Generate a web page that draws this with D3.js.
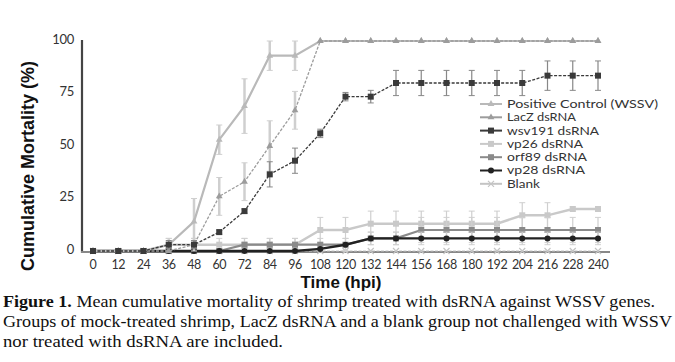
<!DOCTYPE html>
<html>
<head>
<meta charset="utf-8">
<script src="https://cdn.jsdelivr.net/npm/d3@7"></script>
<style>
  body { margin: 0; background: #fff; }
  svg { display: block; }
</style>
</head>
<body>
<div id="chart"></div>
<script>
// Data (hours post infection, % mortality)
var hours = [0, 12, 24, 36, 48, 60, 72, 84, 96, 108, 120, 132, 144, 156, 168, 180, 192, 204, 216, 228, 240];
var yTicks = [0, 25, 50, 75, 100];

var positiveCtrl = [0, 0, 0, 3, 14, 53, 69, 93, 93, 100, 100, 100, 100, 100, 100, 100, 100, 100, 100, 100, 100];
var positiveErr  = [0, 0, 0, 3, 11, 7, 13, 7, 7, 0, 0, 0, 0, 0, 0, 0, 0, 0, 0, 0, 0];
var lacz    = [0, 0, 0, 0, 3, 26, 33, 50, 67, 100, 100, 100, 100, 100, 100, 100, 100, 100, 100, 100, 100];
var laczErr = [0, 0, 0, 0, 3, 9, 9, 12, 9, 0, 0, 0, 0, 0, 0, 0, 0, 0, 0, 0, 0];
var wsv191    = [0, 0, 0, 3, 3, 9, 19, 36.5, 43, 56, 73.5, 73.5, 80, 80, 80, 80, 80, 80, 83.5, 83.5, 83.5];
var wsv191Err = [0, 0, 0, 2, 2, 1, 1, 6, 6, 2, 2, 3, 6, 6, 6, 6, 6, 6, 7, 7, 7];
var vp26    = [0, 0, 0, 3, 3, 3, 3, 3, 3, 10, 10, 13, 13, 13, 13, 13, 13, 17, 17, 20, 20];
var vp26Err = [0, 0, 0, 3, 3, 3, 3, 3, 3, 6, 6, 6, 6, 6, 6, 6, 6, 6, 6, 1, 1];
var orf89    = [0, 0, 0, 0, 0, 0, 3, 3, 3, 3, 3, 6, 6, 10, 10, 10, 10, 10, 10, 10, 10];
var orf89Err = [0, 0, 0, 0, 0, 0, 3, 3, 3, 3, 3, 3, 3, 6, 6, 6, 6, 6, 6, 6, 6];
var vp28    = [0, 0, 0, 0, 0, 0, 0, 0, 0, 1, 3, 6, 6, 6, 6, 6, 6, 6, 6, 6, 6];
var vp28Err = [0, 0, 0, 0, 0, 0, 0, 0, 0, 1, 3, 3, 3, 3, 3, 3, 3, 3, 3, 3, 3];
var blank    = [0, 0, 0, 0, 0, 0, 0, 0, 0, 0, 0, 0, 0, 0, 0, 0, 0, 0, 0, 0, 0];
var blankErr = [0, 0, 0, 0, 0, 0, 0, 0, 0, 0, 0, 0, 0, 0, 0, 0, 0, 0, 0, 0, 0];

var seriesNames = ["Positive Control (WSSV)", "LacZ dsRNA", "wsv191 dsRNA", "vp26 dsRNA", "orf89 dsRNA", "vp28 dsRNA", "Blank"];
var seriesValues = [positiveCtrl, lacz, wsv191, vp26, orf89, vp28, blank];
var seriesErrors = [positiveErr, laczErr, wsv191Err, vp26Err, orf89Err, vp28Err, blankErr];

var captionLines = [
  ["Figure 1.", " Mean cumulative mortality of shrimp treated with dsRNA against WSSV genes."],
  ["", "Groups of mock-treated shrimp, LacZ dsRNA and a blank group not challenged with WSSV"],
  ["", "nor treated with dsRNA are included."]
];

// Styles per series (legend text widths follow the printed figure)
var styles = [
  {color: "#b9b9b9", width: 2.2, marker: "triangle", labelWidth: 151},
  {color: "#9c9c9c", width: 1.3, marker: "triangle", labelWidth: 69},
  {color: "#3a3a3a", width: 1.3, marker: "square", labelWidth: 92},
  {color: "#c9c9c9", width: 2.4, marker: "square", labelWidth: 76},
  {color: "#8a8a8a", width: 2.2, marker: "square", labelWidth: 80},
  {color: "#222222", width: 2.4, marker: "circle", labelWidth: 78},
  {color: "#c4c4c4", width: 1.2, marker: "cross", labelWidth: 33}
];

var W = 675, H = 362;
var svg = d3.select("#chart").append("svg")
    .attr("width", W)
    .attr("height", H);

// Scales
var x = d3.scaleLinear().domain([0, 240]).range([93, 598]);
var y = d3.scaleLinear().domain([0, 100]).range([251, 41]);

// Axes lines
svg.append("line")
    .attr("x1", 82).attr("x2", 82)
    .attr("y1", y(100) - 1).attr("y2", 253)
    .attr("stroke", "#444").attr("stroke-width", 2.2);
svg.append("line")
    .attr("x1", 81).attr("x2", 610)
    .attr("y1", 252).attr("y2", 252)
    .attr("stroke", "#888").attr("stroke-width", 2);

var tickFont = "Lato, 'Open Sans', sans-serif";

svg.selectAll("text.ytick")
    .data(yTicks)
    .enter().append("text")
    .attr("class", "ytick")
    .attr("x", 74)
    .attr("y", function (d) { return y(d) - 2; })
    .attr("dy", "0.35em")
    .attr("text-anchor", "end")
    .attr("font-family", tickFont)
    .attr("font-size", 13)
    .attr("letter-spacing", -0.3)
    .attr("fill", "#333")
    .text(function (d) { return d; });

svg.selectAll("text.xtick")
    .data(hours)
    .enter().append("text")
    .attr("class", "xtick")
    .attr("x", function (d) { return x(d); })
    .attr("y", 269)
    .attr("text-anchor", "middle")
    .attr("font-family", tickFont)
    .attr("font-size", 12.5)
    .attr("letter-spacing", -0.4)
    .attr("fill", "#333")
    .text(function (d) { return d; });

// Axis titles
svg.append("text")
    .attr("transform", "translate(34,166) rotate(-90)")
    .attr("text-anchor", "middle")
    .attr("font-family", "'Liberation Sans', Arial, sans-serif")
    .attr("font-weight", "bold")
    .attr("font-size", 18)
    .attr("fill", "#111")
    .text("Cumulative Mortality (%)");

svg.append("text")
    .attr("x", 341)
    .attr("y", 287.5)
    .attr("text-anchor", "middle")
    .attr("font-family", "'Liberation Sans', Arial, sans-serif")
    .attr("font-weight", "bold")
    .attr("font-size", 17)
    .attr("fill", "#111")
    .text("Time (hpi)");

// Marker drawing
function drawMarker(g, type, cx, cy, color) {
    if (type === "square") {
        g.append("rect").attr("x", cx - 3).attr("y", cy - 3).attr("width", 6).attr("height", 6)
            .attr("fill", color);
    } else if (type === "circle") {
        g.append("circle").attr("cx", cx).attr("cy", cy).attr("r", 3).attr("fill", color);
    } else if (type === "triangle") {
        g.append("path").attr("d", d3.symbol().type(d3.symbolTriangle).size(20)())
            .attr("transform", "translate(" + cx + "," + cy + ")").attr("fill", color);
    } else {
        g.append("path").attr("d", "M-3,-3L3,3M-3,3L3,-3")
            .attr("transform", "translate(" + cx + "," + cy + ")")
            .attr("stroke", color).attr("stroke-width", 1.2);
    }
}

var line = d3.line()
    .x(function (d) { return x(d.h); })
    .y(function (d) { return y(d.v); });

// Draw series, from the bottom of the legend upward so darker ones sit on top
var order = [6, 3, 4, 5, 0, 1, 2];
order.forEach(function (si) {
    var st = styles[si];
    var pts = hours.map(function (h, i) {
        return {h: h, v: seriesValues[si][i], e: seriesErrors[si][i]};
    });
    var g = svg.append("g").attr("class", "series");

    // error bars
    pts.forEach(function (p) {
        if (p.e <= 0) return;
        var y1 = y(Math.min(p.v + p.e, 101)), y2 = y(Math.max(p.v - p.e, 0));
        var ec = si === 2 ? "#888" : "#cfcfcf";
        g.append("line").attr("x1", x(p.h)).attr("x2", x(p.h)).attr("y1", y1).attr("y2", y2)
            .attr("stroke", ec).attr("stroke-width", si < 2 ? 2.5 : 1.2);
        [y1, y2].forEach(function (yy) {
            g.append("line").attr("x1", x(p.h) - 3).attr("x2", x(p.h) + 3).attr("y1", yy).attr("y2", yy)
                .attr("stroke", ec).attr("stroke-width", 1);
        });
    });

    g.append("path")
        .datum(pts)
        .attr("d", line)
        .attr("fill", "none")
        .attr("stroke", st.color)
        .attr("stroke-width", st.width)
        .attr("stroke-dasharray", st.width < 2 ? "3,1.5" : null);

    pts.forEach(function (p) {
        drawMarker(g, st.marker, x(p.h), y(p.v), st.color);
    });
});

// Legend
var legend = svg.append("g").attr("transform", "translate(480,104)");
seriesNames.forEach(function (name, i) {
    var row = legend.append("g").attr("transform", "translate(0," + (i * 13.3) + ")");
    row.append("line").attr("x1", 0).attr("x2", 22).attr("y1", 0).attr("y2", 0)
        .attr("stroke", styles[i].color).attr("stroke-width", 2);
    drawMarker(row, styles[i].marker, 11, 0, styles[i].color);
    row.append("text")
        .attr("x", 27)
        .attr("y", 0)
        .attr("dy", "0.36em")
        .attr("font-family", tickFont)
        .attr("font-size", 11)
        .attr("textLength", styles[i].labelWidth)
        .attr("lengthAdjust", "spacingAndGlyphs")
        .attr("fill", "#333")
        .text(name);
});

// Caption
var capBase = [306.5, 326.5, 346.5];
var capWidths = [652, 669, 280];
captionLines.forEach(function (parts, i) {
    var t = svg.append("text")
        .attr("x", 3)
        .attr("y", capBase[i])
        .attr("font-family", "'Liberation Serif', 'DejaVu Serif', serif")
        .attr("font-size", 17)
        .attr("fill", "#111")
        .attr("textLength", capWidths[i])
        .attr("lengthAdjust", "spacingAndGlyphs");
    if (parts[0]) t.append("tspan").attr("font-weight", "bold").text(parts[0]);
    t.append("tspan").text(parts[1]);
});
</script>
</body>
</html>
